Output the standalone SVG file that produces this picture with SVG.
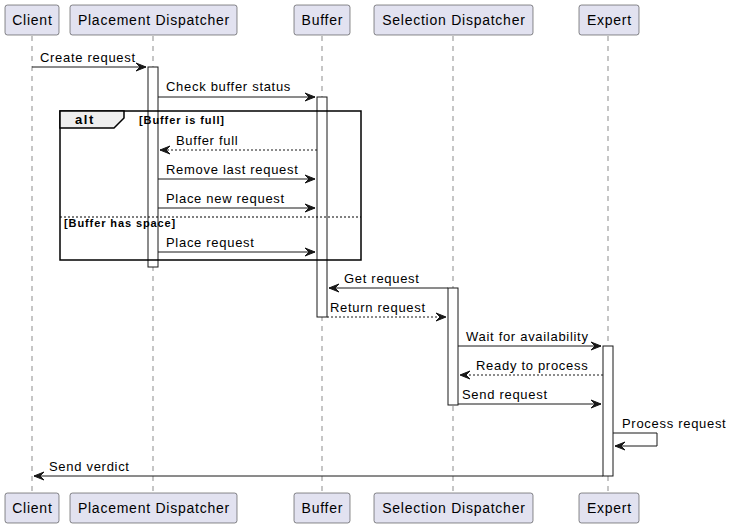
<svg xmlns="http://www.w3.org/2000/svg" width="732" height="529" viewBox="0 0 732 529">
<style>
.p{fill:#E2E2F0;stroke:#181818;stroke-width:0.5}
.pt{font-family:"Liberation Sans",Arial,sans-serif;font-size:14px;fill:#000;letter-spacing:0.75px}
.life{stroke:#181818;stroke-width:0.5;stroke-dasharray:5,5;fill:none}
.act{fill:#FFFFFF;stroke:#181818;stroke-width:1}
.m{stroke:#181818;stroke-width:1;fill:none}
.d{stroke:#181818;stroke-width:1;fill:none;stroke-dasharray:2,2}
.ml{font-family:"Liberation Sans",Arial,sans-serif;font-size:13px;fill:#000;letter-spacing:0.7px}
.g{font-family:"Liberation Sans",Arial,sans-serif;font-size:11px;font-weight:bold;fill:#000;letter-spacing:0.9px}
.ah{fill:#181818;stroke:#181818;stroke-width:1}
</style>
<rect width="732" height="529" fill="#FFFFFF"/>
<g id="lifelines">
<line class="life" x1="32" y1="36" x2="32" y2="492"/>
<line class="life" x1="153" y1="36" x2="153" y2="492"/>
<line class="life" x1="322" y1="36" x2="322" y2="492"/>
<line class="life" x1="453" y1="36" x2="453" y2="492"/>
<line class="life" x1="608" y1="36" x2="608" y2="492"/>
</g>
<g id="Client">
<rect class="p" x="5" y="5" width="54" height="30" rx="2.5"/>
<text class="pt" x="32.4" y="25" text-anchor="middle">Client</text>
<rect class="p" x="5" y="493" width="54" height="30" rx="2.5"/>
<text class="pt" x="32.4" y="513" text-anchor="middle">Client</text>
</g>
<g id="PlacementDispatcher">
<rect class="p" x="70" y="5" width="167" height="30" rx="2.5"/>
<text class="pt" x="153.9" y="25" text-anchor="middle">Placement Dispatcher</text>
<rect class="p" x="70" y="493" width="167" height="30" rx="2.5"/>
<text class="pt" x="153.9" y="513" text-anchor="middle">Placement Dispatcher</text>
</g>
<g id="Buffer">
<rect class="p" x="294" y="5" width="56" height="30" rx="2.5"/>
<text class="pt" x="322.4" y="25" text-anchor="middle">Buffer</text>
<rect class="p" x="294" y="493" width="56" height="30" rx="2.5"/>
<text class="pt" x="322.4" y="513" text-anchor="middle">Buffer</text>
</g>
<g id="SelectionDispatcher">
<rect class="p" x="374" y="5" width="159" height="30" rx="2.5"/>
<text class="pt" x="453.9" y="25" text-anchor="middle">Selection Dispatcher</text>
<rect class="p" x="374" y="493" width="159" height="30" rx="2.5"/>
<text class="pt" x="453.9" y="513" text-anchor="middle">Selection Dispatcher</text>
</g>
<g id="Expert">
<rect class="p" x="579" y="5" width="60" height="30" rx="2.5"/>
<text class="pt" x="609.4" y="25" text-anchor="middle">Expert</text>
<rect class="p" x="579" y="493" width="60" height="30" rx="2.5"/>
<text class="pt" x="609.4" y="513" text-anchor="middle">Expert</text>
</g>
<g id="activations">
<rect class="act" x="148" y="67" width="10" height="200"/>
<rect class="act" x="317" y="97" width="10" height="220"/>
<rect class="act" x="448" y="288" width="10" height="117"/>
<rect class="act" x="603" y="346" width="10" height="130"/>
</g>
<g id="alt">
<rect x="60" y="111" width="301" height="149" fill="none" stroke="#000" stroke-width="1.5"/>
<path d="M60,111 L124,111 L124,118 L114,128 L60,128 Z" fill="#EEEEEE" stroke="#000" stroke-width="1.5"/>
<text class="g" x="75" y="124" style="font-size:13px;letter-spacing:1.6px">alt</text>
<text class="g" x="139" y="124">[Buffer is full]</text>
<line x1="60" y1="217" x2="361" y2="217" stroke="#000" stroke-width="1" stroke-dasharray="2,2"/>
<text class="g" x="64" y="227">[Buffer has space]</text>
</g>
<g id="connectors">
<line class="m" x1="32" y1="67" x2="146" y2="67"/>
<polygon class="ah" points="136,63 146,67 136,71 140,67"/>
<text class="ml" x="40" y="62">Create request</text>

<line class="m" x1="158" y1="97" x2="315" y2="97"/>
<polygon class="ah" points="305,93 315,97 305,101 309,97"/>
<text class="ml" x="166" y="91">Check buffer status</text>

<line class="d" x1="317" y1="150" x2="160" y2="150"/>
<polygon class="ah" points="170,146 160,150 170,154 166,150"/>
<text class="ml" x="176" y="145">Buffer full</text>

<line class="m" x1="158" y1="179" x2="315" y2="179"/>
<polygon class="ah" points="305,175 315,179 305,183 309,179"/>
<text class="ml" x="166" y="174">Remove last request</text>

<line class="m" x1="158" y1="208" x2="315" y2="208"/>
<polygon class="ah" points="305,204 315,208 305,212 309,208"/>
<text class="ml" x="166" y="203">Place new request</text>

<line class="m" x1="158" y1="252" x2="315" y2="252"/>
<polygon class="ah" points="305,248 315,252 305,256 309,252"/>
<text class="ml" x="166" y="247">Place request</text>

<line class="m" x1="448" y1="288" x2="329" y2="288"/>
<polygon class="ah" points="339,284 329,288 339,292 335,288"/>
<text class="ml" x="344" y="283">Get request</text>

<line class="d" x1="327" y1="317" x2="446" y2="317"/>
<polygon class="ah" points="436,313 446,317 436,321 440,317"/>
<text class="ml" x="330" y="312">Return request</text>

<line class="m" x1="458" y1="346" x2="601" y2="346"/>
<polygon class="ah" points="591,342 601,346 591,350 595,346"/>
<text class="ml" x="466" y="341">Wait for availability</text>

<line class="d" x1="603" y1="375" x2="460" y2="375"/>
<polygon class="ah" points="470,371 460,375 470,379 466,375"/>
<text class="ml" x="476" y="370">Ready to process</text>

<line class="m" x1="458" y1="404" x2="601" y2="404"/>
<polygon class="ah" points="591,400 601,404 591,408 595,404"/>
<text class="ml" x="462" y="399">Send request</text>

<polyline class="m" points="613,433 657,433 657,446 615,446"/>
<polygon class="ah" points="625,442 615,446 625,450 621,446"/>
<text class="ml" x="622" y="428">Process request</text>

<line class="m" x1="603" y1="476" x2="34" y2="476"/>
<polygon class="ah" points="44,472 34,476 44,480 40,476"/>
<text class="ml" x="49" y="471">Send verdict</text>
</g>
</svg>
